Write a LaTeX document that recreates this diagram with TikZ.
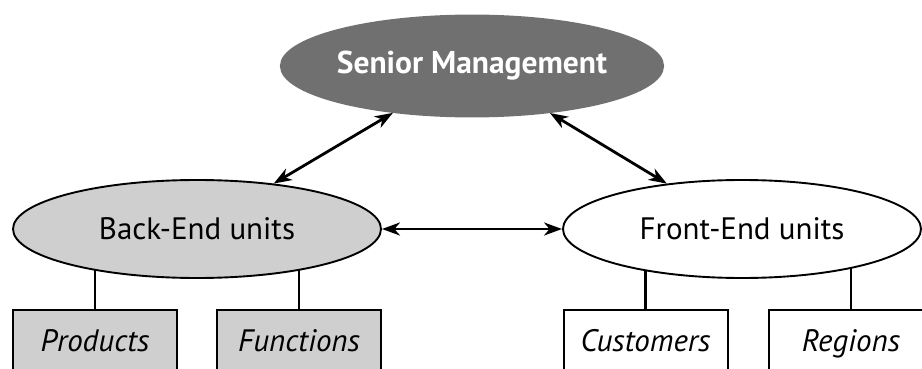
\documentclass[tikz,border=0pt]{standalone}
\usepackage{fontspec}
\setmainfont{PT Sans}
\usetikzlibrary{shapes.geometric,arrows.meta,backgrounds}
\definecolor{darkfill}{HTML}{707070}
\definecolor{lightfill}{HTML}{CFCFCF}
\tikzset{
  unit/.style={ellipse, draw=black, line width=1.9pt, inner sep=0pt,
    font=\fontsize{31}{36}\selectfont},
  topunit/.style={unit, fill=darkfill, draw=darkfill, text=white,
    font=\fontsize{31.5}{36}\selectfont\bfseries},
  subbox/.style={rectangle, draw=black, line width=2pt, inner sep=0pt,
    minimum width=164pt, minimum height=67pt, text height=22pt, text depth=7pt,
    font=\fontsize{31}{36}\selectfont\itshape},
  twohead/.tip={Stealth[length=18pt,width=13pt,inset=5.5pt]},
  link/.style={line width=2.8pt, twohead-twohead},
  stem/.style={line width=2.8pt}
}
\begin{document}
\begin{tikzpicture}[x=1pt,y=-1pt]
\useasboundingbox (0,0) rectangle (922,369);
\clip (0,0) rectangle (922,369);
% managers and the two families of units
\node[topunit, minimum width=370pt, minimum height=101pt] (sm) at (472,66) {Senior Management};
\node[unit, fill=lightfill, minimum width=368pt, minimum height=98pt] (be) at (197,229) {Back-End units};
\node[unit, fill=white, minimum width=358pt, minimum height=98pt] (fe) at (742,229) {Front-End units};
% organisational dimensions below each family
\node[subbox, fill=lightfill] (prod) at (95,343.5) {Products};
\node[subbox, fill=lightfill] (func) at (299,343.5) {Functions};
\node[subbox, fill=white] (cust) at (645.5,343.5) {Customers};
\node[subbox, fill=white] (reg) at (851,343.5) {Regions};
% stems from each unit to its boxes, tucked behind the ellipses
\begin{scope}[on background layer]
  \draw[stem] (prod.north) -- (prod.north |- be.center);
  \draw[stem] (func.north) -- (func.north |- be.center);
  \draw[stem] (cust.north) -- (cust.north |- fe.center);
  \draw[stem] (reg.north) -- (reg.north |- fe.center);
\end{scope}
% two-way links
\draw[link] (sm) -- (be);
\draw[link] (sm) -- (fe);
\draw[link] (be) -- (fe);
\end{tikzpicture}
\end{document}
